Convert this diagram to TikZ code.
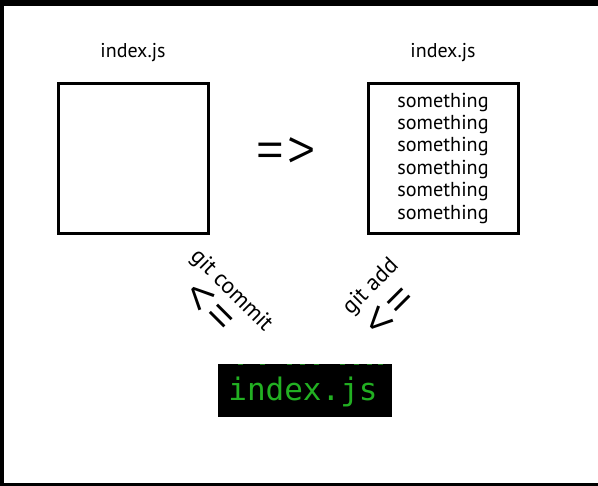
\documentclass[tikz,border=0pt]{standalone}
\usepackage{fontspec}
\setmainfont{PT Sans}
\setmonofont{DejaVu Sans Mono}
\newfontfamily\thinfont{Fira Sans Light}
\definecolor{termgreen}{HTML}{22B022}
\tikzset{
  filebox/.style={draw=black, line width=3pt, minimum width=150pt, minimum height=150pt, inner sep=0pt, anchor=north west},
  title/.style={font=\fontsize{20}{22}\selectfont, inner sep=0pt},
  body/.style={font=\fontsize{20.2}{22.4}\selectfont, align=center, inner sep=0pt},
  cmd/.style={font=\fontsize{23}{25}\selectfont, inner sep=0pt},
  arr/.style={font=\thinfont\fontsize{58}{58}\selectfont, inner sep=0pt},
  bigarr/.style={font=\thinfont\fontsize{64}{64}\selectfont, inner sep=0pt},
}
\begin{document}
\begin{tikzpicture}[x=1pt, y=-1pt]
\useasboundingbox (0,0) rectangle (598,486);
\fill[black] (0,0) rectangle (598,486);
\fill[white] (4,6) rectangle (598,483);
\node[filebox] (left) at (56.5,82.5) {};
\node[filebox] (right) at (366.5,82.5) {};
\node[title] (lt) at (133,53) {index.js};
\node[title] (rt) at (443,53) {index.js};
\node[body] (txt) at (443,158) {something\\something\\something\\something\\something\\something};
\node[bigarr] (eq) at (286,155) {=>};
\node[cmd, rotate=-45] (commit) at (231,291) {git commit};
\node[arr, rotate=-45] (larr) at (208,309) {<=};
\node[cmd, rotate=45] (add) at (371,287) {git add};
\node[arr, rotate=45] (rarr) at (392,313) {<=};
\fill[black] (218,364) rectangle (392,417);
\begin{scope}
\clip (218,364) rectangle (392,417);
\foreach \x in {240,262,289,302,316,342,356,369,380}
  \fill[termgreen!70!black] (\x-2.5,364) rectangle (\x+2.5,365.5);
\end{scope}
\node[font=\ttfamily\fontsize{31}{31}\selectfont, text=termgreen, inner sep=0pt] (term) at (303,392) {index.js};
\end{tikzpicture}
\end{document}
